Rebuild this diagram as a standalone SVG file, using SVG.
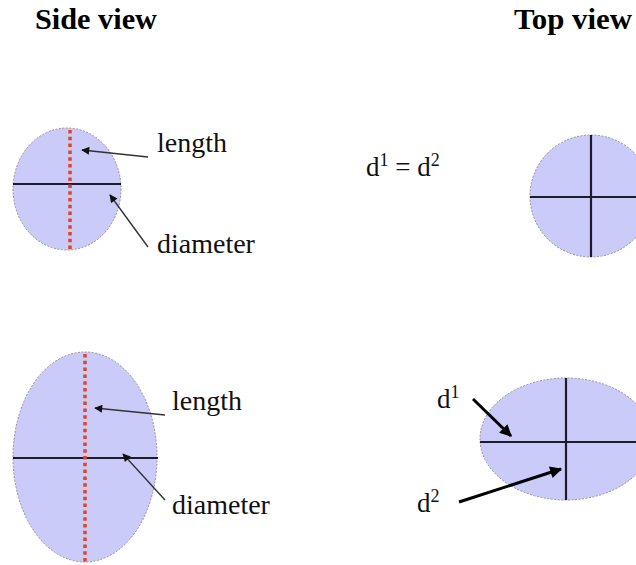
<svg xmlns="http://www.w3.org/2000/svg" width="636" height="565" viewBox="0 0 636 565">
<style>
.shape{fill:#cbcbfa;stroke:#9a8a9a;stroke-width:1;stroke-dasharray:2 1.5}
.axis{stroke:#1c1c2c;stroke-width:2.2;fill:none}
.dots{stroke:#e2461e;stroke-width:3.5;stroke-dasharray:3.5 3.3;fill:none}
.thin{stroke:#333;stroke-width:1.4;fill:none}
.thick{stroke:#000;stroke-width:3;fill:none}
.title{font-family:"Liberation Serif",serif;font-weight:bold;font-size:30px;fill:#000}
.lbl{font-family:"Liberation Serif",serif;font-size:28px;fill:#111}
.eq{font-family:"Liberation Serif",serif;font-size:27px;fill:#111}
</style>
<defs>
<marker id="ah" viewBox="0 0 10 10" refX="9" refY="5" markerWidth="9" markerHeight="8" orient="auto" markerUnits="userSpaceOnUse">
<path d="M0,0 L10,5 L0,10 z" fill="#111"/>
</marker>
<marker id="ahb" viewBox="0 0 10 10" refX="9" refY="5" markerWidth="14" markerHeight="12" orient="auto" markerUnits="userSpaceOnUse">
<path d="M0,0 L10,5 L0,10 z" fill="#000"/>
</marker>
</defs>
<rect width="636" height="565" fill="#fff"/>
<text class="title" x="35" y="29" textLength="122" lengthAdjust="spacingAndGlyphs">Side view</text>
<text class="title" x="514" y="29" textLength="118" lengthAdjust="spacingAndGlyphs">Top view</text>

<g id="side-small">
<ellipse class="shape" cx="67" cy="189" rx="54" ry="61"/>
<line class="axis" x1="13" y1="184" x2="121" y2="184"/>
<line class="dots" x1="70" y1="130" x2="70" y2="250"/>
</g>
<g id="side-large">
<ellipse class="shape" cx="85" cy="457" rx="72" ry="105"/>
<line class="axis" x1="13" y1="458" x2="158" y2="458"/>
<line class="dots" x1="85" y1="354" x2="85" y2="563"/>
</g>
<g id="top-circle">
<ellipse class="shape" cx="591" cy="196" rx="61" ry="61"/>
<line class="axis" x1="530" y1="197" x2="636" y2="197"/>
<line class="axis" x1="591" y1="135" x2="591" y2="257"/>
</g>
<g id="top-ellipse">
<ellipse class="shape" cx="566" cy="439" rx="86" ry="61"/>
<line class="axis" x1="480" y1="442" x2="636" y2="442"/>
<line class="axis" x1="566" y1="378" x2="566" y2="500"/>
</g>

<g id="labels">
<text class="lbl" x="157" y="152">length</text>
<text class="lbl" x="157" y="253">diameter</text>
<text class="lbl" x="172" y="410">length</text>
<text class="lbl" x="172" y="514">diameter</text>
<text class="eq" x="366" y="176">d<tspan font-size="18" dy="-10">1</tspan><tspan dy="10"> = d</tspan><tspan font-size="18" dy="-10">2</tspan></text>
<text class="eq" x="437" y="408">d<tspan font-size="18" dy="-10">1</tspan></text>
<text class="eq" x="417" y="512">d<tspan font-size="18" dy="-10">2</tspan></text>
</g>

<g id="connectors">
<line class="thin" x1="148" y1="157" x2="82" y2="150" marker-end="url(#ah)"/>
<line class="thin" x1="148" y1="247" x2="110" y2="195" marker-end="url(#ah)"/>
<line class="thin" x1="165" y1="415" x2="95" y2="408" marker-end="url(#ah)"/>
<line class="thin" x1="165" y1="500" x2="123" y2="454" marker-end="url(#ah)"/>
<line class="thick" x1="473" y1="399" x2="511" y2="436" marker-end="url(#ahb)"/>
<line class="thick" x1="459" y1="502" x2="561" y2="469" marker-end="url(#ahb)"/>
</g>
</svg>
